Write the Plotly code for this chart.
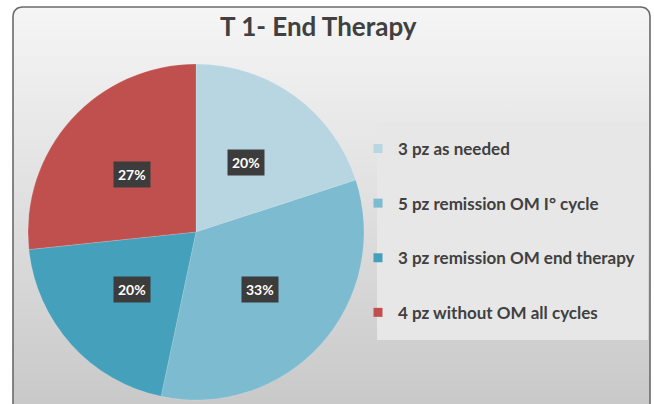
import math
import plotly.graph_objects as go

# ---- data ----
title_text = "T 1- End Therapy"
categories = ["3 pz as needed", "5 pz remission OM I° cycle",
              "3 pz remission OM end therapy", "4 pz without OM all cycles"]
counts = [3, 5, 3, 4]
colors = ["#B7D6E2", "#7DBBD0", "#45A0BB", "#C0504D"]

W, H = 654, 404
cx, cy, r = 196, 232, 168

fig = go.Figure()

# background panel (rounded frame with gradient)
x0, x1, y0, y1, rad = 13, 650, 7, 420, 9
px, py = [], []
def arc(xc, yc, a0, a1):
    for i in range(9):
        a = math.radians(a0 + (a1 - a0) * i / 8)
        px.append(xc + rad * math.cos(a)); py.append(yc + rad * math.sin(a))
arc(x0 + rad, y0 + rad, 180, 270)
arc(x1 - rad, y0 + rad, 270, 360)
px += [x1, x0]; py += [y1, y1]
px.append(px[0]); py.append(py[0])
fig.add_trace(go.Scatter(x=px, y=py, mode="lines", fill="toself",
                         line=dict(color="#6A6A6A", width=1.6),
                         fillgradient=dict(type="vertical",
                                           colorscale=[[0, "#C9C9C9"], [0.55, "#E2E2E2"], [1, "#F6F6F6"]],
                                           start=404, stop=0),
                         hoverinfo="skip", showlegend=False))

# legend entries (dummy traces so we can space them)
for i, (c, col) in enumerate(zip(categories, colors)):
    fig.add_trace(go.Scatter(x=[None], y=[None], mode="markers", name=c,
                             marker=dict(symbol="square", size=9, color=col),
                             legendgroup=f"g{i}", showlegend=True))

# pie
fig.add_trace(go.Pie(labels=categories, values=counts, sort=False, direction="clockwise",
                     rotation=0, textinfo="none", showlegend=False,
                     marker=dict(colors=colors, line=dict(color="rgba(255,255,255,0.25)", width=0.6)),
                     domain=dict(x=[(cx - r) / W, (cx + r) / W],
                                 y=[(H - cy - r) / H, (H - cy + r) / H])))

# data labels
total = sum(counts)
cum = 0
anns = []
for v in counts:
    mid = (cum + v / 2) / total * 2 * math.pi
    cum += v
    lx = cx + 0.51 * r * math.sin(mid)
    ly = cy - 0.51 * r * math.cos(mid)
    anns.append(dict(x=lx, y=ly, xref="x", yref="y", text=f"<b>{round(100 * v / total)}%</b>",
                     showarrow=False, bgcolor="#3C3C3C", borderpad=4,
                     font=dict(family="Lato", size=14, color="white")))
anns.append(dict(x=318, y=26, xref="x", yref="y", text=f"<b>{title_text}</b>", showarrow=False,
                 font=dict(family="Lato", size=26, color="#404040")))

fig.update_layout(
    width=W, height=H, margin=dict(l=0, r=0, t=0, b=0),
    paper_bgcolor="white", plot_bgcolor="rgba(0,0,0,0)",
    xaxis=dict(range=[0, W], visible=False, fixedrange=True),
    yaxis=dict(range=[H, 0], visible=False, fixedrange=True),
    annotations=anns,
    shapes=[dict(type="rect", xref="x", yref="y", x0=377, x1=648, y0=122, y1=340,
                 fillcolor="#E7E7E7", line=dict(width=0), layer="above")],
    legend=dict(x=358 / W, y=1 - 131 / H, xanchor="left", yanchor="top",
                bgcolor="rgba(0,0,0,0)", tracegroupgap=29.5,
                font=dict(family="Lato", size=17, color="#404040", weight="bold")),
    showlegend=True,
)

fig.write_html("out.html", config={"displayModeBar": False},
               post_script="document.body.style.margin='0';document.body.style.overflow='hidden';")
